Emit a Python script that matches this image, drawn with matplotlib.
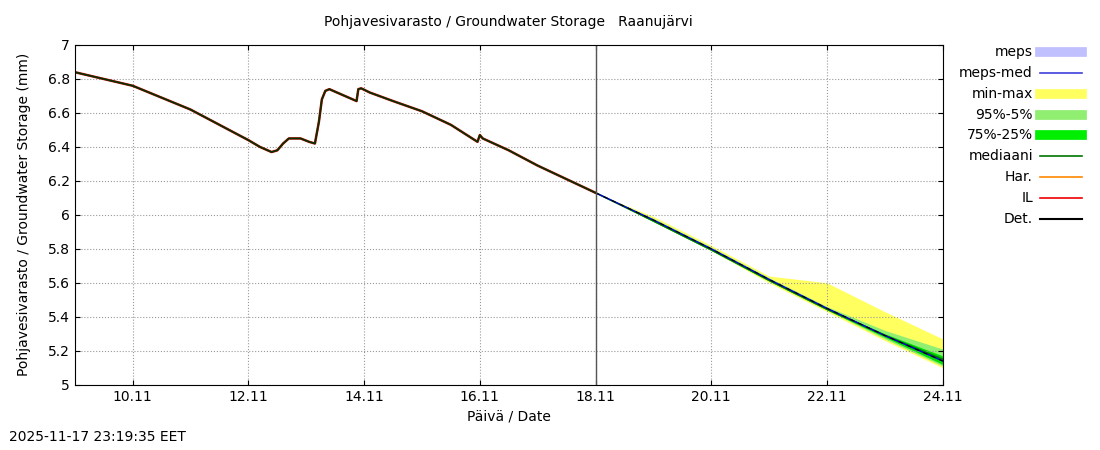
import numpy as np
import matplotlib.pyplot as plt
import matplotlib.dates as mdates
from datetime import datetime, timedelta

t0 = datetime(2025, 11, 9)

# observed / deterministic curve (days from 9.11, value mm)
obs_days = [0, 0.5, 1, 1.5, 2, 2.5, 3, 3.2, 3.4, 3.5, 3.6, 3.7, 3.9, 4.05, 4.15, 4.22, 4.27, 4.33, 4.4, 4.6, 4.87, 4.9, 4.95, 5.1, 5.5, 6, 6.5, 6.96, 7.0, 7.05, 7.5, 8, 8.5, 9.0]
obs_vals = [6.84, 6.80, 6.76, 6.69, 6.62, 6.53, 6.44, 6.40, 6.37, 6.38, 6.42, 6.45, 6.45, 6.43, 6.42, 6.55, 6.68, 6.73, 6.74, 6.71, 6.67, 6.74, 6.745, 6.72, 6.67, 6.61, 6.53, 6.43, 6.47, 6.45, 6.38, 6.29, 6.21, 6.13]

fc_days = [9.0, 10, 11, 12, 12.5, 13, 14, 15]
fc_det = [6.13, 5.97, 5.80, 5.62, 5.535, 5.45, 5.29, 5.14]
fc_max = [6.13, 5.99, 5.82, 5.64, 5.62, 5.60, 5.43, 5.27]
fc_min = [6.13, 5.96, 5.79, 5.60, 5.515, 5.43, 5.26, 5.10]
fc_p95 = [6.13, 5.98, 5.81, 5.63, 5.545, 5.46, 5.32, 5.21]
fc_p5 = [6.13, 5.96, 5.79, 5.61, 5.525, 5.44, 5.27, 5.11]
fc_p75 = [6.13, 5.97, 5.80, 5.62, 5.535, 5.45, 5.30, 5.17]
fc_p25 = [6.13, 5.96, 5.79, 5.61, 5.525, 5.44, 5.28, 5.12]
fc_med = [6.13, 5.965, 5.795, 5.615, 5.53, 5.445, 5.29, 5.15]

def to_dates(days):
    return [t0 + timedelta(days=d) for d in days]

plt.rcParams['font.size'] = 10
fig = plt.figure(figsize=(11, 4.5), dpi=100)
ax = fig.add_axes([0.068, 0.145, 0.789, 0.755])

fd = to_dates(fc_days)
ax.fill_between(fd, fc_min, fc_max, color='#ffff60', lw=0)
ax.fill_between(fd, fc_p5, fc_p95, color='#90ee70', lw=0)
ax.fill_between(fd, fc_p25, fc_p75, color='#00dd00', lw=0)
ax.plot(fd, fc_med, color='#007700', lw=1.2)
ax.plot(fd, fc_det, color='#0000cc', lw=1)
ax.plot(fd, fc_det, color='black', lw=0.8, ls=(0, (4, 4)))
ax.plot(to_dates(obs_days), obs_vals, color='#cc0000', lw=1.8)
ax.plot(to_dates(obs_days), obs_vals, color='#003300', lw=1.2)
ax.axvline(t0 + timedelta(days=9), color='#555555', lw=1)

ax.set_xlim(t0, t0 + timedelta(days=15))
ax.set_ylim(5, 7)
ax.set_yticks(np.arange(5, 7.01, 0.2))
ax.set_yticklabels(['5', '5.2', '5.4', '5.6', '5.8', '6', '6.2', '6.4', '6.6', '6.8', '7'])
ax.xaxis.set_major_locator(mdates.DayLocator(bymonthday=[10, 12, 14, 16, 18, 20, 22, 24]))
ax.xaxis.set_major_formatter(mdates.DateFormatter('%d.%m'))
ax.grid(True, color='#999999', ls=':', lw=0.8)
ax.tick_params(direction='in', labelsize=10, top=True, right=True)
ax.set_xlabel('Päivä / Date', fontsize=10)
ax.set_ylabel('Pohjavesivarasto / Groundwater Storage (mm)', fontsize=10, labelpad=12)
ax.set_title('Pohjavesivarasto / Groundwater Storage   Raanujärvi', fontsize=10, pad=14)

labels = ['meps', 'meps-med', 'min-max', '95%-5%', '75%-25%', 'mediaani', 'Har.', 'IL', 'Det.']
styles = [('#c0c0ff', 7), ('#4040dd', 1.2), ('#ffff60', 7), ('#90ee70', 7), ('#00ee00', 7),
          ('#007700', 1.2), ('#ff8800', 1.2), ('#ee0000', 1.2), ('black', 1.5)]
for i, (lab, (c, w)) in enumerate(zip(labels, styles)):
    y = 0.885 - i * 0.0465
    fig.text(0.939, y, lab, ha='right', va='center', fontsize=10)
    fig.add_artist(plt.Line2D([0.945, 0.984], [y, y], color=c, lw=w, transform=fig.transFigure))

fig.text(0.008, 0.02, '2025-11-17 23:19:35 EET', fontsize=10)
fig.savefig('out.png')
